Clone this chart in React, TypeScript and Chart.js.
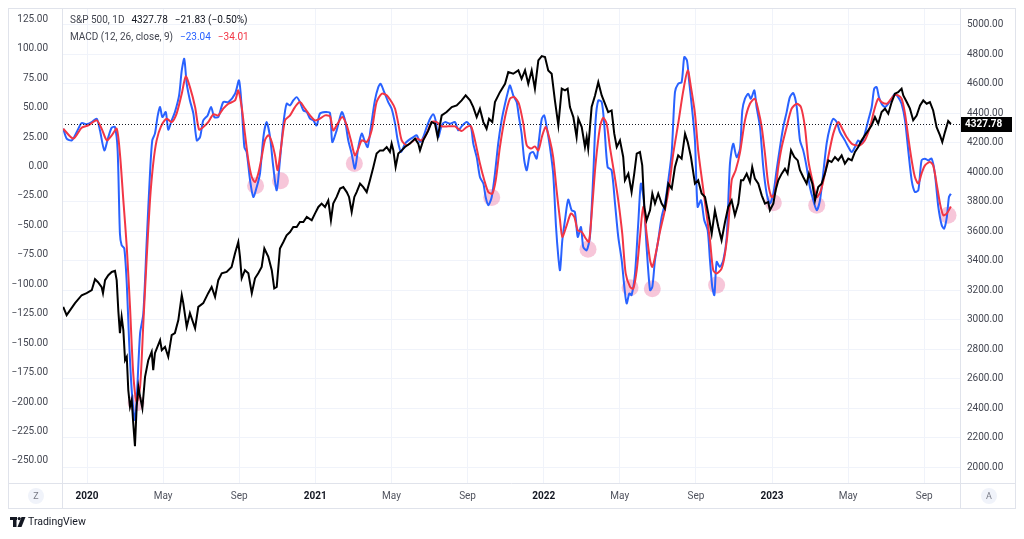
import React, { useEffect, useRef } from "react";
import { Chart, registerables } from "chart.js";

Chart.register(...registerables);

// x values = months since 1 Jan 2020 (0 = Jan 2020, 12 = Jan 2021, ...)
const X_MIN = -1.314;
const X_MAX = 45.88;
const X_TICKS = [0, 4, 8, 12, 16, 20, 24, 28, 32, 36, 40, 44];
const X_LABELS = ["2020", "May", "Sep", "2021", "May", "Sep", "2022", "May", "Sep", "2023", "May", "Sep"];

const MACD_MIN = -268.7;
const MACD_MAX = 134.16;
const MACD_TICKS = [125, 100, 75, 50, 25, 0, -25, -50, -75, -100, -125, -150, -175, -200, -225, -250];

const SPX_MIN = 1891.5;
const SPX_MAX = 5111.9;
const SPX_TICKS = [2000, 2200, 2400, 2600, 2800, 3000, 3200, 3400, 3600, 3800, 4000, 4200, 4400, 4600, 4800, 5000];

const LAST_PRICE = 4327.78;
const LEGEND_1 = ["S&P 500, 1D", "4327.78", "\u221221.83 (\u22120.50%)"];
const LEGEND_2 = ["MACD (12, 26, close, 9)", "\u221223.04", "\u221234.01"];

// S&P 500 daily close (sampled), [month, price]
const SPX: [number, number][] = [
  [-1.25,3087],[-1.07,3031],[-0.63,3112],[-0.28,3166],[-0.02,3180],[0.25,3200],[0.42,3275],[0.58,3254],[0.77,3220],[0.84,3180],
  [0.95,3268],[1.12,3302],[1.30,3324],[1.47,3331],[1.56,3268],[1.65,3053],[1.73,2909],[1.82,3019],[1.91,2929],[2.00,2725],
  [2.09,2748],[2.17,2522],[2.26,2409],[2.35,2454],[2.43,2298],[2.52,2142],[2.61,2409],[2.70,2544],[2.79,2477],[2.91,2400],
  [3.05,2612],[3.22,2725],[3.40,2782],[3.48,2658],[3.57,2773],[3.84,2861],[3.93,2793],[4.10,2816],[4.27,2748],[4.45,2895],
  [4.62,2909],[4.80,2997],[4.98,3166],[5.06,3112],[5.24,2951],[5.41,3044],[5.68,2942],[5.85,3087],[6.11,3112],[6.37,3180],
  [6.55,3222],[6.73,3155],[6.90,3268],[7.08,3315],[7.34,3324],[7.60,3358],[7.78,3451],[7.95,3527],[8.04,3426],[8.13,3281],
  [8.30,3336],[8.48,3315],[8.66,3180],[8.83,3281],[9.00,3315],[9.18,3358],[9.32,3483],[9.53,3426],[9.71,3336],[9.84,3212],
  [9.97,3222],[10.14,3483],[10.32,3527],[10.49,3573],[10.67,3595],[10.84,3629],[11.02,3629],[11.19,3663],[11.37,3663],[11.55,3697],
  [11.81,3675],[11.98,3720],[12.16,3765],[12.33,3788],[12.51,3765],[12.68,3810],[12.82,3675],[12.94,3788],[13.12,3833],[13.30,3890],
  [13.47,3900],[13.65,3866],[13.77,3833],[13.91,3731],[14.05,3833],[14.17,3866],[14.35,3923],[14.52,3900],[14.70,3866],[14.87,3946],
  [15.05,4036],[15.22,4127],[15.40,4149],[15.57,4149],[15.75,4172],[15.92,4138],[16.01,4195],[16.10,4149],[16.22,4036],[16.36,4127],
  [16.54,4149],[16.71,4172],[16.97,4195],[17.24,4229],[17.41,4195],[17.50,4149],[17.67,4217],[17.94,4285],[18.11,4341],[18.29,4330],
  [18.43,4239],[18.64,4386],[18.90,4409],[19.17,4443],[19.43,4454],[19.69,4488],[19.90,4522],[20.13,4488],[20.30,4443],[20.48,4375],
  [20.65,4432],[20.83,4341],[21.00,4296],[21.13,4364],[21.30,4341],[21.44,4477],[21.70,4544],[21.97,4601],[22.14,4680],[22.40,4669],
  [22.67,4692],[22.84,4635],[23.02,4692],[23.19,4601],[23.37,4692],[23.54,4568],[23.72,4759],[23.90,4789],[24.07,4782],[24.24,4692],
  [24.42,4669],[24.59,4488],[24.77,4319],[24.95,4568],[25.12,4556],[25.26,4568],[25.38,4443],[25.56,4375],[25.73,4239],[25.82,4364],
  [26.00,4307],[26.17,4172],[26.26,4239],[26.34,4161],[26.52,4443],[26.70,4522],[26.87,4612],[27.05,4522],[27.22,4466],[27.39,4409],
  [27.57,4420],[27.71,4262],[27.84,4172],[28.01,4217],[28.18,4104],[28.27,3946],[28.45,3991],[28.62,3866],[28.76,3991],[28.89,4127],
  [29.06,4138],[29.18,4047],[29.29,3765],[29.41,3675],[29.59,3742],[29.71,3856],[29.85,3788],[30.02,3856],[30.20,3788],[30.37,3754],
  [30.55,3923],[30.73,3890],[30.90,4036],[31.07,4115],[31.25,4093],[31.43,4262],[31.57,4205],[31.74,4104],[31.95,3923],[32.12,3946],
  [32.30,3856],[32.48,3833],[32.65,3720],[32.83,3584],[33.00,3742],[33.18,3629],[33.35,3539],[33.53,3663],[33.70,3765],[33.88,3810],
  [34.05,3709],[34.23,3788],[34.37,3946],[34.49,3946],[34.67,3991],[34.84,3934],[34.96,4036],[35.10,3957],[35.28,3923],[35.46,3844],
  [35.63,3788],[35.80,3799],[35.89,3742],[36.07,3788],[36.19,3878],[36.33,3946],[36.51,3991],[36.68,4025],[36.82,3991],[37.00,4149],
  [37.17,4104],[37.35,4081],[37.47,4014],[37.64,3968],[37.82,3923],[37.94,3991],[38.12,3923],[38.26,3810],[38.43,3900],[38.61,3923],
  [38.78,3991],[38.96,4081],[39.13,4070],[39.31,4104],[39.48,4081],[39.66,4115],[39.83,4059],[40.01,4093],[40.19,4081],[40.36,4138],
  [40.53,4172],[40.71,4217],[40.88,4251],[41.06,4285],[41.24,4319],[41.41,4375],[41.58,4330],[41.76,4409],[41.94,4432],[42.11,4398],
  [42.29,4477],[42.46,4534],[42.63,4544],[42.81,4568],[42.90,4522],[43.08,4477],[43.25,4432],[43.42,4353],[43.60,4386],[43.78,4454],
  [43.95,4488],[44.13,4466],[44.30,4477],[44.47,4420],[44.65,4307],[44.83,4251],[44.95,4205],[45.09,4273],[45.26,4348],[45.40,4327.78],
];

// MACD line (blue), [month, value]
const MACD: [number, number][] = [
  [-1.25,32.1],[-1.07,23.7],[-0.80,22.2],[-0.54,29.3],[-0.28,36.9],[-0.02,35.8],[0.25,37.7],[0.51,40.6],[0.68,30.7],[0.91,13.7],
  [1.12,25.0],[1.30,33.0],[1.47,33.5],[1.61,13.7],[1.73,-56.9],[1.82,-66.8],[1.96,-69.6],[2.09,-99.3],[2.21,-147.4],[2.35,-189.8],
  [2.52,-215.2],[2.61,-198.3],[2.79,-141.7],[2.96,-124.8],[3.14,-62.6],[3.31,-6.0],[3.43,22.2],[3.57,27.9],[3.72,43.4],[3.84,50.5],
  [3.96,42.0],[4.14,46.2],[4.27,31.3],[4.45,39.2],[4.62,46.2],[4.84,60.4],[4.98,81.6],[5.11,91.5],[5.24,70.3],[5.41,56.1],
  [5.59,44.9],[5.77,22.2],[5.94,25.0],[6.11,39.2],[6.34,43.4],[6.52,50.5],[6.69,42.0],[6.90,42.0],[7.16,54.7],[7.43,54.7],
  [7.78,61.8],[7.99,73.1],[8.13,50.5],[8.27,16.5],[8.39,12.3],[8.57,-11.7],[8.74,-25.9],[8.92,-17.4],[9.09,-6.0],[9.27,25.0],
  [9.44,37.7],[9.62,25.0],[9.79,-0.4],[9.97,-20.2],[10.14,5.2],[10.32,36.4],[10.49,53.3],[10.67,51.9],[10.84,56.1],[11.02,58.9],
  [11.19,54.7],[11.37,47.7],[11.55,46.2],[11.72,40.6],[11.89,39.2],[12.07,34.9],[12.24,44.9],[12.51,46.2],[12.77,45.4],[12.89,20.8],
  [13.12,30.7],[13.39,46.2],[13.56,39.2],[13.73,22.2],[13.91,10.9],[14.08,-1.8],[14.26,16.5],[14.44,27.9],[14.61,20.8],[14.75,16.5],
  [14.92,33.5],[15.13,56.1],[15.31,67.4],[15.43,70.3],[15.62,63.2],[15.83,54.7],[16.01,49.1],[16.19,36.4],[16.33,22.2],[16.50,12.3],
  [16.71,19.4],[16.89,22.2],[17.15,25.0],[17.33,26.5],[17.50,20.8],[17.67,25.0],[17.85,33.5],[18.03,40.6],[18.20,44.3],[18.32,39.2],
  [18.46,25.0],[18.64,34.9],[18.81,37.7],[19.08,36.4],[19.34,37.7],[19.51,30.7],[19.69,34.1],[19.95,37.7],[20.18,33.5],[20.30,19.4],
  [20.48,8.0],[20.65,-8.9],[20.83,-14.5],[20.95,-25.9],[21.09,-32.9],[21.27,-25.9],[21.44,-6.0],[21.61,19.4],[21.79,39.2],[21.97,53.3],
  [22.14,64.6],[22.23,68.9],[22.40,60.4],[22.58,54.7],[22.70,42.0],[22.84,27.9],[22.98,5.3],[23.11,-3.2],[23.28,10.9],[23.45,12.3],
  [23.63,6.7],[23.75,22.2],[23.90,40.6],[24.03,43.4],[24.16,33.5],[24.33,16.5],[24.50,-6.0],[24.65,-51.3],[24.77,-76.8],[24.86,-88.0],
  [24.98,-62.6],[25.12,-45.6],[25.29,-28.1],[25.47,-37.1],[25.64,-38.6],[25.79,-59.8],[25.96,-51.3],[26.08,-68.3],[26.26,-71.1],[26.43,-59.8],
  [26.61,-6.0],[26.73,39.2],[26.87,56.1],[27.05,54.7],[27.18,36.4],[27.36,-0.4],[27.57,-3.2],[27.75,-31.5],[27.92,-59.8],[28.10,-79.5],
  [28.24,-102.2],[28.36,-116.3],[28.50,-107.8],[28.62,-109.2],[28.80,-90.8],[28.97,-48.4],[29.11,-14.5],[29.26,-28.7],[29.41,-68.3],[29.59,-105.0],
  [29.71,-102.2],[29.85,-79.5],[30.02,-62.6],[30.20,-42.8],[30.37,-31.5],[30.55,-11.7],[30.73,12.3],[30.90,63.2],[31.07,70.3],[31.25,71.6],
  [31.39,92.9],[31.53,90.1],[31.64,73.1],[31.78,51.9],[31.95,22.2],[32.09,-34.3],[32.27,-28.7],[32.44,-45.6],[32.62,-54.1],[32.74,-79.5],
  [32.86,-102.2],[32.97,-109.2],[33.09,-81.0],[33.26,-85.2],[33.44,-79.5],[33.62,-59.8],[33.79,2.5],[33.96,19.4],[34.14,8.0],[34.32,15.2],
  [34.44,47.7],[34.58,57.6],[34.75,61.8],[34.89,57.6],[35.07,64.6],[35.19,50.5],[35.37,33.5],[35.54,-0.4],[35.72,-23.0],[35.89,-31.5],
  [36.07,-23.0],[36.24,-3.2],[36.42,16.5],[36.59,33.5],[36.77,46.2],[36.94,58.9],[37.12,62.3],[37.30,50.5],[37.47,22.2],[37.64,13.7],
  [37.82,-0.4],[37.99,-17.4],[38.17,-28.7],[38.35,-37.1],[38.52,-28.7],[38.69,-6.0],[38.87,19.4],[39.05,33.5],[39.22,40.6],[39.40,37.7],
  [39.57,29.3],[39.83,22.2],[40.01,16.5],[40.19,12.3],[40.36,16.5],[40.53,22.2],[40.71,19.4],[40.88,27.9],[41.06,39.2],[41.24,50.5],
  [41.37,66.1],[41.50,67.4],[41.62,58.9],[41.76,53.3],[41.94,50.5],[42.11,53.3],[42.29,57.6],[42.46,61.8],[42.63,58.9],[42.81,53.3],
  [42.99,39.2],[43.16,13.7],[43.34,-11.7],[43.51,-21.6],[43.69,-20.2],[43.86,5.2],[44.04,6.7],[44.21,5.2],[44.39,6.7],[44.56,-6.0],
  [44.74,-34.3],[44.92,-49.9],[45.05,-52.7],[45.19,-42.8],[45.30,-25.9],[45.40,-23.04],
];

// Signal line (red), [month, value]
const SIGNAL: [number, number][] = [
  [-1.25,32.1],[-0.72,23.7],[-0.28,33.0],[0.07,34.9],[0.51,39.2],[0.77,32.1],[1.04,22.2],[1.30,26.5],[1.56,32.1],[1.73,10.9],
  [1.91,-28.7],[2.09,-68.3],[2.26,-119.2],[2.43,-175.6],[2.61,-199.7],[2.79,-187.0],[2.96,-133.2],[3.14,-76.8],[3.31,-28.7],[3.48,2.5],
  [3.66,22.2],[3.89,34.1],[4.19,40.6],[4.45,37.7],[4.71,44.9],[4.98,61.8],[5.19,76.5],[5.41,67.4],[5.68,50.5],[5.89,31.3],
  [6.11,33.5],[6.37,37.7],[6.64,44.3],[6.90,43.4],[7.16,49.1],[7.43,53.3],[7.78,56.1],[7.95,64.6],[8.13,50.5],[8.30,27.9],
  [8.48,5.2],[8.66,-8.9],[8.83,-13.2],[9.00,-6.0],[9.18,8.0],[9.35,22.2],[9.53,26.5],[9.71,20.8],[9.88,9.5],[10.02,-3.2],
  [10.20,16.5],[10.41,39.2],[10.67,43.4],[10.93,50.5],[11.19,54.7],[11.46,49.1],[11.72,43.4],[11.98,39.2],[12.24,40.6],[12.51,43.4],
  [12.77,42.6],[12.94,30.7],[13.17,36.4],[13.42,42.0],[13.65,34.9],[13.87,22.2],[14.08,9.5],[14.26,15.2],[14.44,22.2],[14.70,20.8],
  [14.96,30.7],[15.22,54.7],[15.49,61.8],[15.75,60.4],[16.01,54.7],[16.19,49.1],[16.36,36.4],[16.54,22.2],[16.80,18.0],[17.06,20.8],
  [17.33,23.7],[17.59,22.2],[17.85,27.9],[18.11,37.7],[18.38,37.7],[18.64,34.1],[18.99,34.1],[19.34,34.1],[19.69,30.1],[19.95,33.5],
  [20.18,34.1],[20.39,22.2],[20.65,2.5],[20.88,-11.7],[21.09,-21.6],[21.30,-23.0],[21.48,-11.7],[21.70,16.5],[21.97,42.0],[22.23,57.6],
  [22.46,58.9],[22.70,53.3],[22.93,36.4],[23.11,18.0],[23.33,15.2],[23.54,17.1],[23.72,13.7],[23.93,26.5],[24.11,33.5],[24.33,22.2],
  [24.50,8.0],[24.68,-20.2],[24.86,-45.6],[24.98,-59.8],[25.21,-49.9],[25.43,-39.9],[25.61,-42.8],[25.79,-54.1],[26.00,-55.5],[26.21,-61.1],
  [26.38,-64.0],[26.55,-34.3],[26.73,2.5],[26.96,33.5],[27.13,41.5],[27.31,36.4],[27.48,16.5],[27.71,-6.0],[27.92,-28.7],[28.13,-57.0],
  [28.31,-90.8],[28.54,-102.2],[28.71,-103.6],[28.89,-88.0],[29.06,-59.8],[29.23,-34.3],[29.41,-57.0],[29.59,-79.5],[29.71,-85.2],[29.89,-73.9],
  [30.11,-55.5],[30.37,-37.1],[30.58,-18.7],[30.81,10.9],[31.07,36.4],[31.34,64.6],[31.57,81.6],[31.74,67.4],[31.95,44.9],[32.12,13.7],
  [32.30,-8.9],[32.51,-34.3],[32.74,-62.6],[32.91,-88.0],[33.09,-90.8],[33.35,-86.6],[33.53,-73.9],[33.70,-51.3],[33.88,-11.7],[34.09,-3.2],
  [34.32,12.0],[34.58,39.2],[34.84,53.3],[35.10,57.6],[35.28,47.7],[35.46,33.5],[35.63,10.9],[35.80,-14.5],[35.98,-25.9],[36.15,-23.0],
  [36.33,-0.4],[36.51,16.5],[36.77,33.5],[37.03,49.1],[37.30,53.3],[37.52,50.5],[37.73,33.5],[37.91,5.2],[38.12,-11.7],[38.35,-25.9],
  [38.57,-20.2],[38.78,-6.0],[38.99,10.9],[39.22,27.9],[39.48,37.7],[39.69,32.1],[39.92,25.0],[40.19,19.4],[40.40,18.0],[40.62,18.0],
  [40.88,22.2],[41.15,33.5],[41.37,47.7],[41.58,57.6],[41.76,54.7],[42.03,53.3],[42.20,56.1],[42.42,60.4],[42.63,60.4],[42.81,57.6],
  [42.99,44.9],[43.16,25.0],[43.34,5.3],[43.51,-8.9],[43.69,-14.5],[43.86,-6.0],[44.04,1.0],[44.30,3.8],[44.47,1.0],[44.65,-14.5],
  [44.83,-31.5],[45.00,-41.4],[45.18,-40.0],[45.40,-34.01],
];

// Highlighted MACD troughs (pink circles), [month, value]
const MARKERS: [number, number][] = [
  [2.58,-200.8],[8.86,-16.4],[10.17,-12.1],[14.05,2.5],[21.27,-26.4],[26.33,-70.2],
  [28.54,-102.9],[29.71,-103.7],[33.09,-100.7],[36.07,-30.8],[38.35,-32.9],[45.25,-41.4],
];

const FONT = "Roboto, 'Noto Sans', 'DejaVu Sans', sans-serif";
const GRID = "#f0f3fa";
const FRAME = "#e0e3eb";
const TEXT = "#131722";
const AXIS_TEXT = "#434651";
const BLUE = "#2962ff";
const RED = "#f23645";

const fmt = (v: number) => (v < 0 ? "\u2212" : "") + Math.abs(v).toFixed(2);
const toXY = (arr: [number, number][]) => arr.map(([x, y]) => ({ x, y }));

const decorPlugin = {
  id: "decor",
  afterDatasetsDraw(chart: any) {
    const { ctx, chartArea } = chart;
    const y = chart.scales.y2.getPixelForValue(LAST_PRICE);
    ctx.save();
    ctx.strokeStyle = TEXT;
    ctx.lineWidth = 1;
    ctx.setLineDash([1, 2]);
    ctx.beginPath();
    ctx.moveTo(chartArea.left, Math.round(y) + 0.5);
    ctx.lineTo(chartArea.right, Math.round(y) + 0.5);
    ctx.stroke();
    ctx.restore();
  },
  afterDraw(chart: any) {
    const { ctx, chartArea } = chart;
    const W = chart.width;
    ctx.save();
    // frame
    const L = 8, T = 8, R = 1015, B = 508;
    ctx.strokeStyle = FRAME;
    ctx.lineWidth = 1;
    ctx.strokeRect(L + 0.5, T + 0.5, R - L, B - T);
    ctx.beginPath();
    ctx.moveTo(chartArea.left + 0.5, T);
    ctx.lineTo(chartArea.left + 0.5, B);
    ctx.moveTo(chartArea.right + 0.5, T);
    ctx.lineTo(chartArea.right + 0.5, B);
    ctx.moveTo(L, chartArea.bottom + 0.5);
    ctx.lineTo(R, chartArea.bottom + 0.5);
    ctx.stroke();

    // legend text
    ctx.font = `10px ${FONT}`;
    ctx.textBaseline = "middle";
    ctx.textAlign = "left";
    let x = 70;
    const line1Colors = ["#434651", TEXT, TEXT];
    LEGEND_1.forEach((s, i) => {
      ctx.fillStyle = line1Colors[i];
      ctx.fillText(s, x, 20);
      x += ctx.measureText(s).width + 7;
    });
    x = 70;
    const line2Colors = ["#434651", BLUE, RED];
    LEGEND_2.forEach((s, i) => {
      ctx.fillStyle = line2Colors[i];
      ctx.fillText(s, x, 37);
      x += ctx.measureText(s).width + 7;
    });

    // Z / A buttons
    const btn = (cx: number, label: string) => {
      ctx.fillStyle = "#f0f3fa";
      ctx.beginPath();
      ctx.arc(cx, 496, 8, 0, Math.PI * 2);
      ctx.fill();
      ctx.fillStyle = "#787b86";
      ctx.font = `9px ${FONT}`;
      ctx.textAlign = "center";
      ctx.fillText(label, cx, 496.5);
    };
    btn(36, "Z");
    btn(989, "A");

    // last price label
    const py = chart.scales.y2.getPixelForValue(LAST_PRICE);
    ctx.fillStyle = "#000000";
    ctx.fillRect(chartArea.right + 1, Math.round(py) - 7, 51, 15);
    ctx.fillStyle = "#ffffff";
    ctx.font = `bold 10px ${FONT}`;
    ctx.textAlign = "left";
    ctx.fillText(LAST_PRICE.toFixed(2), chartArea.right + 5, Math.round(py) + 0.5);

    // TradingView watermark
    ctx.fillStyle = TEXT;
    ctx.fillRect(10, 517, 7, 3);
    ctx.fillRect(13, 517, 3.5, 10);
    ctx.beginPath();
    ctx.arc(19.2, 518.6, 1.6, 0, Math.PI * 2);
    ctx.fill();
    ctx.beginPath();
    ctx.moveTo(21.5, 517);
    ctx.lineTo(25.5, 517);
    ctx.lineTo(21.5, 527);
    ctx.lineTo(17.5, 527);
    ctx.closePath();
    ctx.fill();
    ctx.font = `10.5px ${FONT}`;
    ctx.textAlign = "left";
    ctx.fillText("TradingView", 28, 522.5);
    ctx.restore();
    void W;
  },
};

export default function App() {
  const ref = useRef<HTMLCanvasElement>(null);
  useEffect(() => {
    const canvas = ref.current;
    if (!canvas) return;
    const chart = new Chart(canvas, {
      type: "line",
      data: {
        datasets: [
          {
            label: "S&P 500",
            data: toXY(SPX),
            yAxisID: "y2",
            borderColor: "#000000",
            borderWidth: 2,
            pointRadius: 0,
            tension: 0,
            order: 0,
          },
          {
            label: "Signal",
            data: toXY(SIGNAL),
            yAxisID: "y",
            borderColor: RED,
            borderWidth: 2,
            pointRadius: 0,
            tension: 0.25,
            order: 1,
          },
          {
            label: "MACD",
            data: toXY(MACD),
            yAxisID: "y",
            borderColor: BLUE,
            borderWidth: 2,
            pointRadius: 0,
            tension: 0.25,
            order: 2,
          },
          {
            type: "scatter",
            label: "Troughs",
            data: toXY(MARKERS),
            yAxisID: "y",
            pointRadius: 8.5,
            pointHoverRadius: 8.5,
            backgroundColor: "rgba(236, 120, 165, 0.42)",
            borderWidth: 0,
            showLine: false,
            order: 3,
          } as any,
        ],
      },
      options: {
        animation: false,
        responsive: false,
        devicePixelRatio: 1,
        events: [],
        layout: { padding: { left: 8, top: 8, right: 9, bottom: 31 } },
        plugins: { legend: { display: false }, tooltip: { enabled: false } },
        scales: {
          x: {
            type: "linear",
            min: X_MIN,
            max: X_MAX,
            afterBuildTicks: (s: any) => {
              s.ticks = X_TICKS.map((v) => ({ value: v }));
            },
            afterFit: (s: any) => {
              s.height = 25;
              s.paddingLeft = 0;
              s.paddingRight = 0;
            },
            grid: { color: GRID, drawTicks: false },
            border: { display: false },
            ticks: {
              padding: 7,
              autoSkip: false,
              maxRotation: 0,
              callback: (_v: any, i: number) => X_LABELS[i],
              color: (c: any) => (X_LABELS[c.index] && /\d/.test(X_LABELS[c.index]) ? TEXT : "#50535e"),
              font: (c: any) => ({
                family: FONT,
                size: 10,
                weight: X_LABELS[c.index] && /\d/.test(X_LABELS[c.index]) ? "bold" : "normal",
              }),
            },
          },
          y: {
            position: "left",
            min: MACD_MIN,
            max: MACD_MAX,
            afterBuildTicks: (s: any) => {
              s.ticks = MACD_TICKS.map((v) => ({ value: v }));
            },
            afterFit: (s: any) => {
              s.width = 54;
              s.paddingTop = 0;
              s.paddingBottom = 0;
            },
            grid: { display: false },
            border: { display: false },
            ticks: {
              padding: 6,
              autoSkip: false,
              callback: (v: any) => fmt(Number(v)),
              color: AXIS_TEXT,
              font: { family: FONT, size: 10 },
            },
          },
          y2: {
            position: "right",
            min: SPX_MIN,
            max: SPX_MAX,
            afterBuildTicks: (s: any) => {
              s.ticks = SPX_TICKS.map((v) => ({ value: v }));
            },
            afterFit: (s: any) => {
              s.width = 55;
              s.paddingTop = 0;
              s.paddingBottom = 0;
            },
            grid: { color: GRID, drawTicks: false },
            border: { display: false },
            ticks: {
              padding: 7,
              autoSkip: false,
              callback: (v: any) => fmt(Number(v)),
              color: AXIS_TEXT,
              font: { family: FONT, size: 10 },
            },
          },
        },
      },
      plugins: [decorPlugin],
    } as any);
    return () => chart.destroy();
  }, []);
  return (
    <canvas
      ref={ref}
      width={1024}
      height={539}
      style={{ position: "fixed", left: 0, top: 0, width: 1024, height: 539, display: "block", background: "#ffffff" }}
    />
  );
}
